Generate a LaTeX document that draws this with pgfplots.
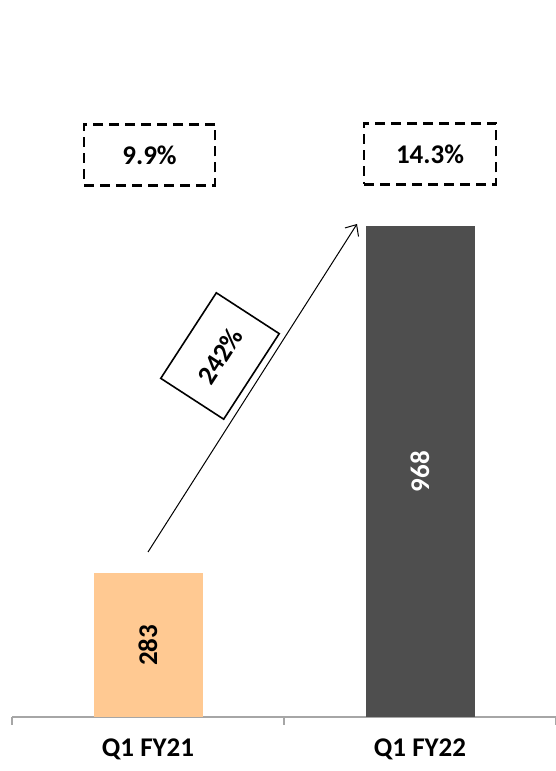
\documentclass[border=0pt]{standalone}
\usepackage{pgfplots}
\pgfplotsset{compat=1.18}
\usepackage{fontspec}
\setmainfont{Carlito}
\usetikzlibrary{arrows.meta}
\definecolor{peach}{RGB}{255,201,146}
\definecolor{darkbar}{RGB}{78,78,78}
\definecolor{axgray}{RGB}{166,166,166}
\newcommand{\bigf}{\fontsize{27}{32}\selectfont\bfseries}
\begin{document}
\begin{tikzpicture}[x=1pt,y=1pt]
\useasboundingbox (0,0) rectangle (556,771);
\begin{axis}[
  at={(12pt,54pt)}, anchor=south west,
  scale only axis, width=544pt, height=717pt,
  xmin=-0.5, xmax=1.5, ymin=0, ymax=1413.6,
  clip=false,
  axis x line=bottom, axis y line=none,
  x axis line style={-, draw=axgray, line width=1.5pt},
  ybar, bar width=109pt,
  xtick={0,1}, xticklabels={Q1 FY21, Q1 FY22},
  major tick length=0pt,
  extra x ticks={-0.5,0.5,1.5}, extra x tick labels={},
  extra x tick style={major tick length=8pt, tick align=outside, tick style={draw=axgray, line width=1.2pt}},
  ytick=\empty,
  xticklabel style={font=\bigf, yshift=-18pt},
  /pgf/number format/assume math mode=true,
  visualization depends on=rawy\as\rawy,
  nodes near coords,
  every node near coord/.append style={font=\bigf, anchor=center, shift={(axis direction cs:0,-\rawy/2)}, rotate=90},
]
\addplot[fill=peach, draw=none, bar shift=0pt, nodes near coords style={text=black}] coordinates {(0,283)};
\addplot[fill=darkbar, draw=none, bar shift=0pt, nodes near coords style={text=white}] coordinates {(1,968)};
\end{axis}
% annotations
\node[draw, line width=2.4pt, dash pattern=on 10pt off 6pt, minimum width=131pt, minimum height=61pt, inner sep=0pt, font=\bigf] at (149.5,616) {9.9\%};
\node[draw, line width=2.4pt, dash pattern=on 10pt off 6pt, minimum width=132pt, minimum height=61pt, inner sep=0pt, font=\bigf] at (430,617) {14.3\%};
\draw[line width=1pt, -{Straight Barb[length=9pt,width=16pt]}] (148,219) -- (357,547);
\node[draw, line width=1.6pt, fill=white, rotate=57, minimum width=102pt, minimum height=75pt, inner sep=0pt, font=\bigf] at (220,415) {242\%};
\end{tikzpicture}
\end{document}
